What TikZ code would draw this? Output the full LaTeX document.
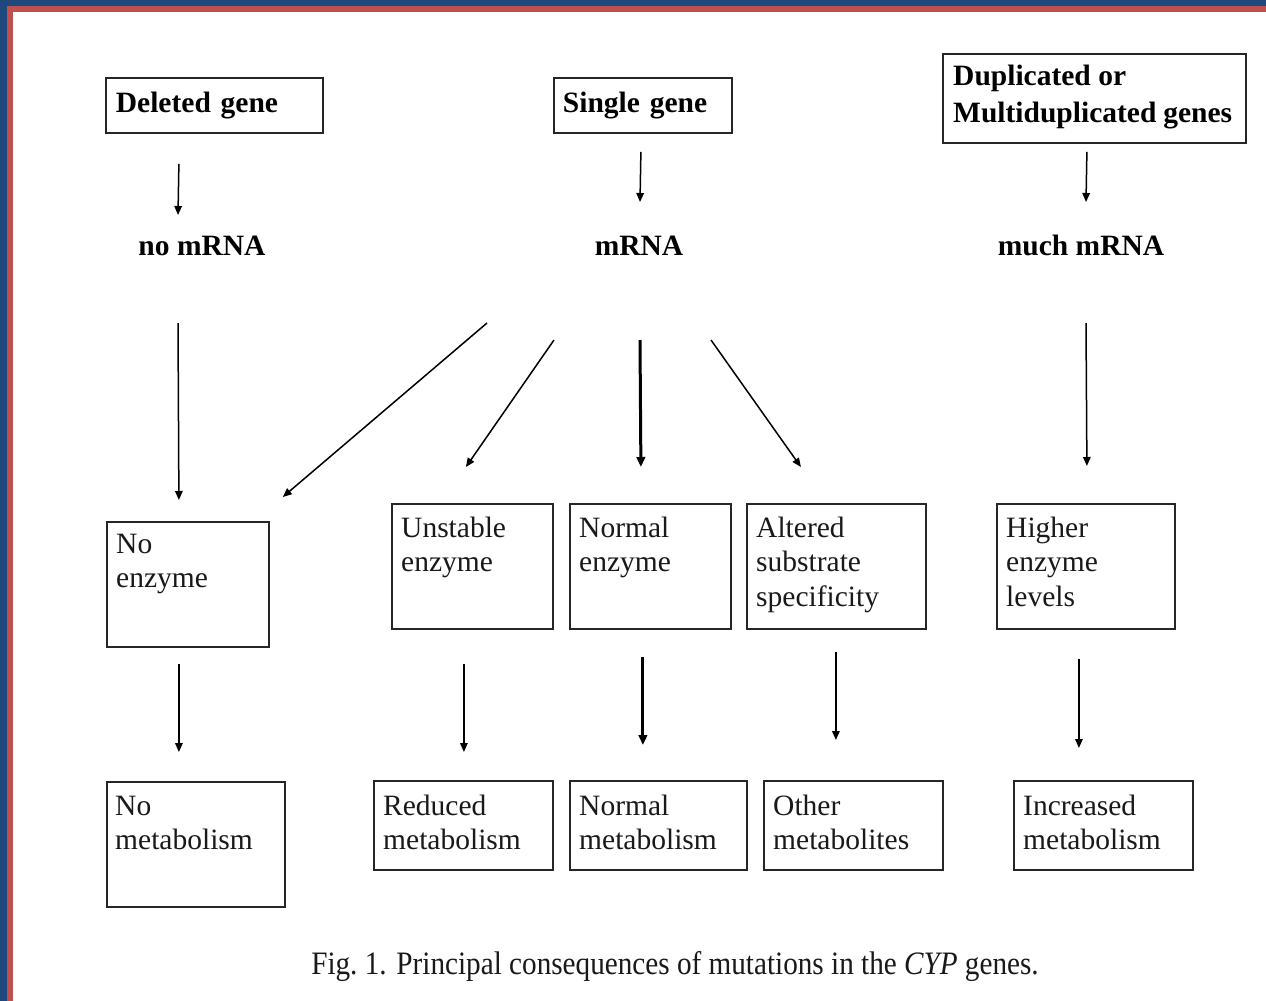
\documentclass[tikz,border=0pt]{standalone}
\usepackage{fontspec}
\setmainfont{Liberation Serif}
\usetikzlibrary{arrows.meta}
\definecolor{frameblue}{HTML}{1F497D}
\definecolor{framered}{HTML}{C0504D}
\begin{document}
\begin{tikzpicture}[x=1pt,y=-1pt,
  box/.style={draw=black!85, line width=1.8pt, inner sep=0pt, anchor=north west},
  headbox/.style={box, align=left, inner ysep=0pt, font=\fontsize{29.5}{37}\selectfont\bfseries},
  headtext/.style={anchor=base west, inner sep=0pt, font=\fontsize{29.5}{37}\selectfont\bfseries},
  boxtext/.style={anchor=base west, inner sep=0pt, font=\fontsize{29.5}{34.5}\selectfont, text=black!90},
  mlabel/.style={anchor=base, inner sep=0pt, font=\fontsize{29.5}{35}\selectfont\bfseries},
  arr/.style={line width=1.5pt, -{Triangle[length=9pt,width=7.5pt]}},
  thickarr/.style={line width=3pt, -{Triangle[length=10pt,width=8.5pt]}}]
\useasboundingbox (0,0) rectangle (1266,1001);
\fill[white] (0,0) rectangle (1266,1001);
% frame strips
\fill[frameblue] (0,0) rectangle (1266,6);
\fill[frameblue] (0,0) rectangle (7,1001);
\fill[framered] (7,6) rectangle (1266,12);
\fill[framered] (7,6) rectangle (13,1001);

% top boxes
\node[headbox, minimum width=217pt, minimum height=55pt, text width=197pt, inner xsep=10pt] (dg) at (105,77) {Deleted gene};
\node[headbox, minimum width=178pt, minimum height=55pt, text width=160pt, inner xsep=9pt] (sg) at (553,77) {Single gene};
\node[box, minimum width=303pt, minimum height=89pt] (dup) at (942,53) {};
\node[headtext] (dup-t) at ([shift={(11,32)}]dup.north west)
  {\parbox[t]{300pt}{\raggedright Duplicated or\\\makebox[279pt][s]{Multiduplicated genes}}};

% mRNA labels
\node[mlabel] (nomrna) at (202,255) {no mRNA};
\node[mlabel] (mrna) at (639,255) {mRNA};
\node[mlabel] (muchmrna) at (1081,255) {much mRNA};

% middle boxes
\node[box, minimum width=162pt, minimum height=125pt] (ne) at (106,521) {};
\node[box, minimum width=161pt, minimum height=125pt] (ue) at (391,503) {};
\node[box, minimum width=161pt, minimum height=125pt] (nen) at (569,503) {};
\node[box, minimum width=179pt, minimum height=125pt] (as) at (746,503) {};
\node[box, minimum width=178pt, minimum height=125pt] (he) at (996,503) {};

\node[boxtext] (ne-t) at ([shift={(10,32)}]ne.north west) {\parbox[t]{150pt}{\raggedright No\\enzyme}};
\node[boxtext] (ue-t) at ([shift={(10,34)}]ue.north west) {\parbox[t]{150pt}{\raggedright Unstable\\enzyme}};
\node[boxtext] (nen-t) at ([shift={(10,34)}]nen.north west) {\parbox[t]{150pt}{\raggedright Normal\\enzyme}};
\node[boxtext] (as-t) at ([shift={(10,34)}]as.north west) {\parbox[t]{170pt}{\raggedright Altered\\substrate\\specificity}};
\node[boxtext] (he-t) at ([shift={(10,34)}]he.north west) {\parbox[t]{170pt}{\raggedright Higher\\enzyme\\levels}};

% bottom boxes
\node[box, minimum width=178pt, minimum height=125pt] (nm) at (106,781) {};
\node[box, minimum width=179pt, minimum height=89pt] (rm) at (373,780) {};
\node[box, minimum width=177pt, minimum height=89pt] (nmet) at (569,780) {};
\node[box, minimum width=179pt, minimum height=89pt] (om) at (763,780) {};
\node[box, minimum width=179pt, minimum height=89pt] (im) at (1013,780) {};

\node[boxtext] (nm-t) at ([shift={(9,34)}]nm.north west) {\parbox[t]{170pt}{\raggedright No\\metabolism}};
\node[boxtext] (rm-t) at ([shift={(10,35)}]rm.north west) {\parbox[t]{170pt}{\raggedright Reduced\\metabolism}};
\node[boxtext] (nmet-t) at ([shift={(10,35)}]nmet.north west) {\parbox[t]{170pt}{\raggedright Normal\\metabolism}};
\node[boxtext] (om-t) at ([shift={(10,35)}]om.north west) {\parbox[t]{170pt}{\raggedright Other\\metabolites}};
\node[boxtext] (im-t) at ([shift={(10,35)}]im.north west) {\parbox[t]{170pt}{\raggedright Increased\\metabolism}};

% caption
\node[anchor=base, inner sep=0pt, font=\fontsize{29.2}{34}\selectfont, text=black!90] (cap) at (675,974)
  {\scalebox{1}[1.12]{Fig.\ 1. Principal consequences of mutations in the \textit{CYP} genes.}};

% connectors
\draw[arr] ([shift={(-35.5,30)}]dg.south) -- ([shift={(-24,-40)}]nomrna.base);
\draw[arr] ([shift={(-2,18)}]sg.south) -- ([shift={(1,-53)}]mrna.base);
\draw[arr] ([shift={(-7.5,8)}]dup.south) -- ([shift={(5,-53)}]muchmrna.base);

\draw[arr] ([shift={(-24,68)}]nomrna.base) -- ([shift={(-9,-21)}]ne.north);
\draw[arr] ([shift={(-152,68)}]mrna.base) -- ([shift={(13,-24)}]ne.north east);
\draw[arr] ([shift={(-85,85)}]mrna.base) -- ([shift={(-6.5,-36)}]ue.north);
\draw[thickarr] ([shift={(1,85)}]mrna.base) -- ([shift={(-9.5,-36)}]nen.north);
\draw[arr] ([shift={(72,85)}]mrna.base) -- ([shift={(-35.5,-36)}]as.north);
\draw[arr] ([shift={(5,68)}]muchmrna.base) -- ([shift={(1,-37)}]he.north);

\draw[arr] ([shift={(-9,16)}]ne.south) -- ([shift={(-17,-29)}]nm.north);
\draw[arr] ([shift={(-8.5,34)}]ue.south) -- ([shift={(0.5,-28)}]rm.north);
\draw[thickarr] ([shift={(-7.5,27)}]nen.south) -- ([shift={(-15.5,-35)}]nmet.north);
\draw[arr] ([shift={(-0.5,22)}]as.south) -- ([shift={(-17.5,-40)}]om.north);
\draw[arr] ([shift={(-7,29)}]he.south) -- ([shift={(-24.5,-32)}]im.north);
\end{tikzpicture}
\end{document}
